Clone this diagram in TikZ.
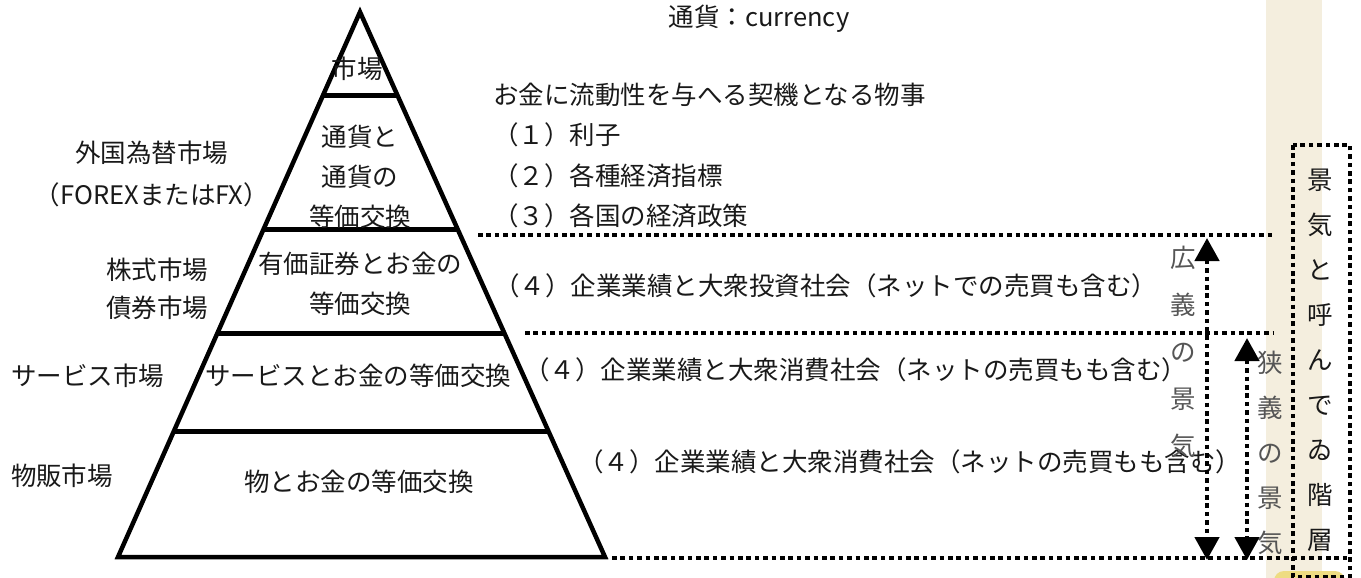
\documentclass[tikz,border=0pt]{standalone}
\usepackage{fontspec}
\setmainfont{Noto Sans CJK JP}
\usetikzlibrary{calc,arrows.meta}
\definecolor{beige}{RGB}{244,238,222}
\definecolor{ink}{RGB}{25,25,25}
\definecolor{grayink}{RGB}{85,85,85}
\definecolor{sticky}{RGB}{238,220,130}
\begin{document}
\begin{tikzpicture}[x=1pt,y=-1pt,
  txt/.style={font=\fontsize{25.5}{40}\selectfont, text=ink, inner sep=0pt},
  one/.style={txt, text height=0.88em, text depth=0.12em},
  pyr/.style={line width=4.5pt, line join=miter},
  sep/.style={line width=5pt},
  dotl/.style={line width=4.6pt, dash pattern=on 4.6pt off 3.8pt},
  tips/.style={{Triangle[width=24pt,length=23pt]}-{Triangle[width=24pt,length=23pt]}},
  vert/.style={font=\fontsize{25.5}{47}\selectfont, text=grayink, inner sep=0pt, align=center},
]
\useasboundingbox (0,0) rectangle (1361,578);
\fill[beige] (1266,0) rectangle (1322,578);
\fill[sticky, rounded corners=10pt] (1274,571) rectangle (1345,600);

% pyramid
\coordinate (A) at (360,12);
\coordinate (BL) at (118,557);
\coordinate (BR) at (605,557);
\draw[pyr] (A) -- (BL) -- (BR) -- cycle;
\foreach \t in {0.1523,0.4,0.589,0.7706}
  \draw[sep] ($(A)!\t!(BL)$) -- ($(A)!\t!(BR)$);

% texts in pyramid
\node[one] (p1) at (357,75) {市場};
\node[txt, align=center] (p2) at (360,177) {通貨と\\通貨の\\等価交換};
\node[txt, align=center] (p3) at (360,284) {有価証券とお金の\\等価交換};
\node[one] (p4) at (358,382) {サービスとお金の等価交換};
\node[one] (p5) at (359,488) {物とお金の等価交換};

% left labels
\node[txt, align=center, font=\fontsize{25.5}{42}\selectfont] (m1) at (152,174) {外国為替市場\\（FOREXまたはFX）};
\node[txt, align=center, font=\fontsize{25.5}{38}\selectfont] (m2) at (157,289) {株式市場\\債券市場};
\node[one] (m3) at (88,382) {サービス市場};
\node[one] (m4) at (62,482) {物販市場};

% right texts
\node[one] (cur) at (759,23) {通貨：currency};
\node[one, anchor=west] (q0) at (493,101) {お金に流動性を与へる契機となる物事};
\node[one, anchor=west] (q1) at (493,141) {（１）利子};
\node[one, anchor=west] (q2) at (493,182) {（２）各種経済指標};
\node[one, anchor=west] (q3) at (493,222) {（３）各国の経済政策};
\node[one, anchor=west] (r1) at (494,292) {（４）企業業績と大衆投資社会（ネットでの売買も含む）};
\node[one, anchor=west] (r2) at (524,376) {（４）企業業績と大衆消費社会（ネットの売買もも含む）};
\node[one, anchor=west] (r3) at (578,468) {（４）企業業績と大衆消費社会（ネットの売買もも含む）};

% dotted separators
\coordinate (d1s) at (478,235); \coordinate (d1e) at (1272,235);
\coordinate (d2s) at (525,333); \coordinate (d2e) at (1273,333);
\coordinate (d3s) at (612,558); \coordinate (d3e) at (1347,558);
\draw[dotl] (d1s) -- (d1e);
\draw[dotl] (d2s) -- (d2e);
\draw[dotl] (d3s) -- (d3e);

% vertical texts
\node[vert] (w1) at (1183,352) {広\\義\\の\\景\\気};
\node[vert, font=\fontsize{25.5}{45}\selectfont] (w2) at (1270,453) {狭\\義\\の\\景\\気};
\node[vert, text=ink, font=\fontsize{25.5}{45}\selectfont] (w3) at (1320,360) {景\\気\\と\\呼\\ん\\で\\ゐ\\階\\層};

% arrows
\coordinate (aT) at (1207,238); \coordinate (aB) at (1207,560);
\coordinate (bT) at (1247,338); \coordinate (bB) at (1247,560);
\draw[dotl, tips] (aT) -- (aB);
\draw[dotl, tips] (bT) -- (bB);

% dotted frame
\coordinate (f1) at (1293,145); \coordinate (f2) at (1350,577);
\draw[dotl] (f1) rectangle (f2);
\end{tikzpicture}
\end{document}
